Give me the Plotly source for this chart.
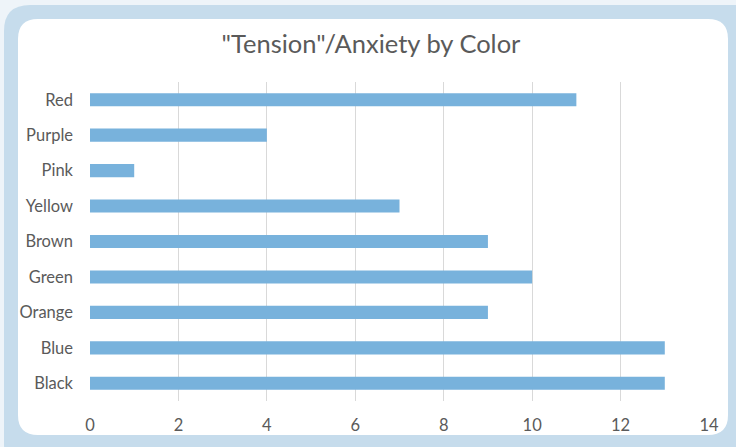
import plotly.graph_objects as go

# Data (bottom to top on the category axis)
colors = ["Black", "Blue", "Orange", "Green", "Brown", "Yellow", "Pink", "Purple", "Red"]
counts = [13, 13, 9, 10, 9, 7, 1, 4, 11]
x_ticks = [0, 2, 4, 6, 8, 10, 12, 14]

W, H = 736, 447
L, R, T, B = 90, 27, 82, 46
pw, ph = W - L - R, H - T - B


def px(x):
    return (x - L) / pw


def py(y):
    return (H - B - y) / ph


def rounded_rect(x0, y0, x1, y1, r):
    # rounded rectangle path in paper coordinates from pixel corners
    pts = [
        f"M {px(x0 + r)},{py(y0)}",
        f"L {px(x1 - r)},{py(y0)}",
        f"Q {px(x1)},{py(y0)} {px(x1)},{py(y0 + r)}",
        f"L {px(x1)},{py(y1 - r)}",
        f"Q {px(x1)},{py(y1)} {px(x1 - r)},{py(y1)}",
        f"L {px(x0 + r)},{py(y1)}",
        f"Q {px(x0)},{py(y1)} {px(x0)},{py(y1 - r)}",
        f"L {px(x0)},{py(y0 + r)}",
        f"Q {px(x0)},{py(y0)} {px(x0 + r)},{py(y0)}",
        "Z",
    ]
    return " ".join(pts)


font_family = "Lato, 'Open Sans', sans-serif"
text_color = "#5a5a5a"

fig = go.Figure(
    go.Bar(
        x=counts,
        y=colors,
        orientation="h",
        marker=dict(color="#78b2dc", line=dict(width=0)),
        width=0.37,
        hoverinfo="x+y",
    )
)

fig.update_layout(
    width=W,
    height=H,
    margin=dict(l=L, r=R, t=T, b=B),
    paper_bgcolor="#eef4f9",
    plot_bgcolor="rgba(0,0,0,0)",
    showlegend=False,
    title=dict(
        text='"Tension"/Anxiety by Color',
        x=371 / W,
        xref="container",
        xanchor="center",
        y=1 - 44 / H,
        yref="container",
        yanchor="middle",
        font=dict(family=font_family, size=25.5, color=text_color),
    ),
    shapes=[
        dict(type="path", xref="paper", yref="paper", layer="below",
             path=rounded_rect(4, 5, 760, 470, 26),
             fillcolor="#c6dcec", line=dict(width=0)),
        dict(type="path", xref="paper", yref="paper", layer="below",
             path=rounded_rect(18, 19, 728, 435, 20),
             fillcolor="#ffffff", line=dict(width=0)),
    ],
    xaxis=dict(
        range=[0, 14],
        tickvals=x_ticks,
        showgrid=True,
        gridcolor="#d9d9d9",
        gridwidth=1,
        zeroline=False,
        showline=False,
        ticks="",
        ticklabelstandoff=12,
        tickfont=dict(family=font_family, size=16.5, color=text_color),
        fixedrange=True,
    ),
    yaxis=dict(
        categoryorder="array",
        categoryarray=colors,
        range=[-0.5, len(colors) - 0.5],
        showgrid=False,
        zeroline=False,
        showline=False,
        ticks="",
        ticklabelstandoff=16,
        tickfont=dict(family=font_family, size=16.5, color=text_color),
        fixedrange=True,
    ),
)

fig.write_html("out.html")
